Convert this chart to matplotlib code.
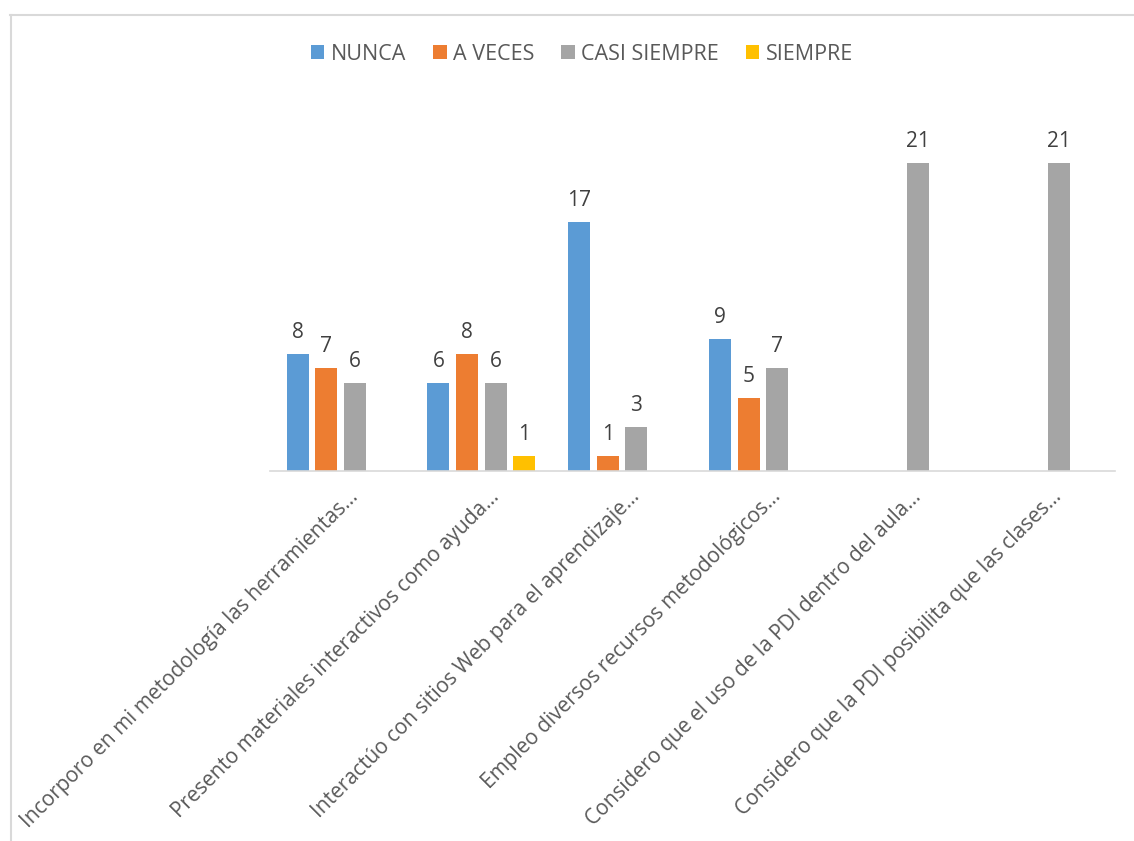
import numpy as np
import matplotlib
matplotlib.use("Agg")
import matplotlib.pyplot as plt
import matplotlib.transforms as mtransforms
from matplotlib.lines import Line2D

plt.rcParams["font.family"] = ["Open Sans", "DejaVu Sans"]

categories = [
    "Incorporo en mi metodología las herramientas…",
    "Presento materiales interactivos como ayuda…",
    "Interactúo con sitios Web para el aprendizaje…",
    "Empleo diversos recursos metodológicos…",
    "Considero que el uso de la PDI dentro del aula…",
    "Considero que la PDI posibilita que las clases…",
]
series_names = ["NUNCA", "A VECES", "CASI SIEMPRE", "SIEMPRE"]
nunca = [8, 6, 17, 9, None, None]
a_veces = [7, 8, 1, 5, None, None]
casi_siempre = [6, 6, 3, 7, 21, 21]
siempre = [None, 1, None, None, None, None]
colors = ["#5B9BD5", "#ED7D31", "#A5A5A5", "#FFC000"]

TEXT = "#595959"

fig = plt.figure(figsize=(11.34, 8.41), dpi=100)
ax = fig.add_axes([0.2381, 0.4400, 0.9832 - 0.2381, 0.8585 - 0.4400])

x = np.arange(len(categories))
step = 0.203
width = 0.156
all_series = [nunca, a_veces, casi_siempre, siempre]

for k, (vals, name, col) in enumerate(zip(all_series, series_names, colors)):
    offs = (k - 1.5) * step
    v = np.array([np.nan if val is None else val for val in vals], dtype=float)
    ax.bar(x + offs, v, width, color=col, label=name, zorder=2)
    for xi, val in zip(x + offs, vals):
        if val is None:
            continue
        ax.annotate(str(val), (xi, val), xytext=(0, 8), textcoords="offset points",
                    ha="center", va="bottom", fontsize=15, color="#404040")

ax.set_xlim(-0.5, len(categories) - 0.5)
ax.set_ylim(0, 24)
ax.set_yticks([])
for s in ["left", "right", "top"]:
    ax.spines[s].set_visible(False)
ax.spines["bottom"].set_color("#D9D9D9")
ax.spines["bottom"].set_linewidth(1.2)

ax.set_xticks(x)
ax.set_xticklabels(categories, rotation=45, ha="right", rotation_mode="anchor",
                   fontsize=15, color=TEXT)
ax.tick_params(axis="x", length=0, pad=11)
shift = mtransforms.ScaledTranslation(7 / 100, 0, fig.dpi_scale_trans)
for lbl in ax.get_xticklabels():
    lbl.set_transform(lbl.get_transform() + shift)

fig.legend(loc="center", bbox_to_anchor=(582 / 1134, 1 - 54 / 841), ncol=4,
           frameon=False, fontsize=15.5, labelcolor=TEXT,
           handlelength=0.62, handleheight=0.62, handletextpad=0.3,
           columnspacing=1.25)

# chart frame (top and left edges visible)
fig.add_artist(Line2D([10 / 1134, 1.0], [1 - 14.5 / 841] * 2, color="#D9D9D9",
                      lw=1.5, transform=fig.transFigure))
fig.add_artist(Line2D([10.5 / 1134] * 2, [0.0, 1 - 14.5 / 841], color="#D9D9D9",
                      lw=1.5, transform=fig.transFigure))

fig.savefig("out.png", dpi=100, facecolor="white")
